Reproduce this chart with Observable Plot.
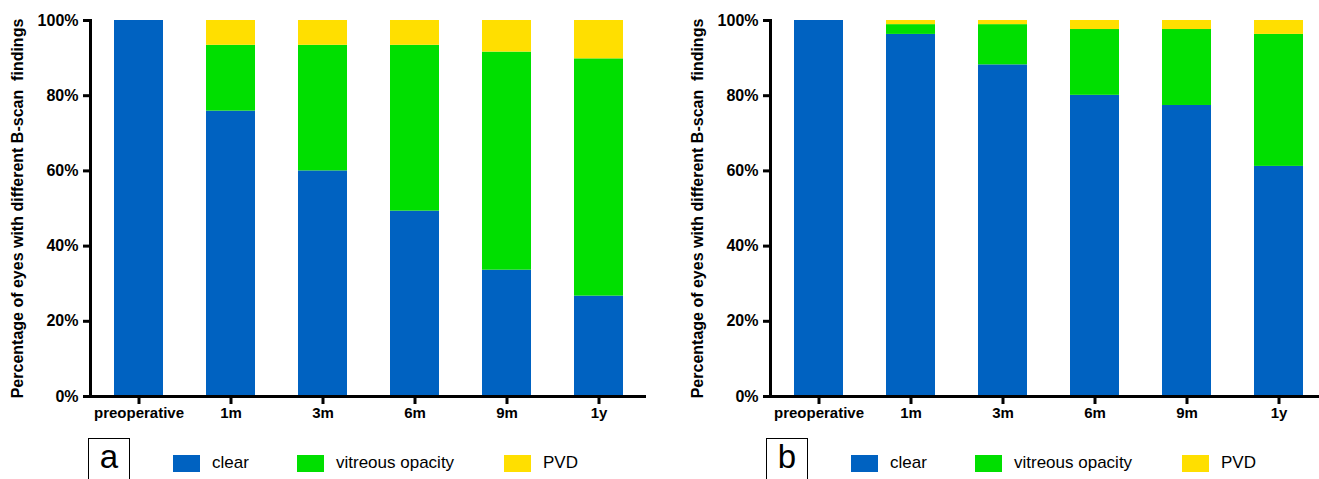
<!DOCTYPE html>
<html>
<head>
<meta charset="utf-8">
<script src="https://cdn.jsdelivr.net/npm/d3@7"></script>
<script src="https://cdn.jsdelivr.net/npm/@observablehq/plot@0.6"></script>
<style>
  html, body { margin: 0; padding: 0; background: #fff; }
  #wrap { position: relative; width: 1319px; height: 479px; overflow: hidden; font-family: "Liberation Sans", Arial, sans-serif; background: #fff; }
  .panel { position: absolute; top: 0; width: 660px; height: 430px; }
  .panel svg { max-width: none !important; }
  .panel svg text { white-space: pre; }
  .legend { position: absolute; top: 438px; height: 60px; width: 600px; }
  .tag { position: absolute; top: 0; width: 42px; height: 60px; border: 1.5px solid #000; box-sizing: border-box; font-size: 33px; line-height: 32px; padding-top: 2px; text-align: center; color: #000; }
  .sw { position: absolute; top: 17px; width: 27px; height: 17px; }
  .lab { position: absolute; top: 15px; font-size: 17px; line-height: 20px; color: #000; white-space: nowrap; }
</style>
</head>
<body>
<div id="wrap"></div>
<script>
const timepoints = ["preoperative", "1m", "3m", "6m", "9m", "1y"];
const findings = ["clear", "vitreous opacity", "PVD"];
const colors = ["#0062c1", "#00df00", "#ffdf00"];
const yTicks = [0, 20, 40, 60, 80, 100];
const yLabel = "Percentage of eyes with different B-scan  findings";

// panel a
const clearA = [100, 75.9, 60.0, 49.3, 33.6, 26.7];
const opacityA = [0, 17.5, 33.4, 44.1, 58.0, 63.1];
const pvdA = [0, 6.6, 6.6, 6.6, 8.4, 10.2];
// panel b
const clearB = [100, 96.3, 88.2, 80.1, 77.4, 61.2];
const opacityB = [0, 2.6, 10.7, 17.5, 20.2, 35.1];
const pvdB = [0, 1.1, 1.1, 2.4, 2.4, 3.7];

function toRows(series) {
  const rows = [];
  timepoints.forEach((t, i) => {
    findings.forEach((f, j) => rows.push({time: t, finding: f, value: series[j][i]}));
  });
  return rows;
}

function panel(rows) {
  return Plot.plot({
    width: 660, height: 430,
    marginTop: 20, marginBottom: 34, marginLeft: 90, marginRight: 14,
    style: {fontFamily: '"Liberation Sans", Arial, sans-serif', color: "#000", background: "transparent", overflow: "visible"},
    x: {domain: timepoints, paddingInner: 0.47, paddingOuter: 0.235},
    y: {domain: [0, 100]},
    color: {domain: findings, range: colors},
    marks: [
      Plot.barY(rows, {x: "time", y: "value", fill: "finding", inset: 0}),
      Plot.axisY({ticks: yTicks, tickFormat: d => d + "%", tickSize: 7, tickPadding: 5, strokeWidth: 3,
        fontSize: 16, fontWeight: "bold", label: yLabel, labelAnchor: "center", labelArrow: "none", labelOffset: 79}),
      Plot.axisX({tickSize: 8, tickPadding: 3, strokeWidth: 3, fontSize: 15, fontWeight: "bold", label: null}),
      Plot.ruleY([0], {strokeWidth: 3}),
      Plot.frame({anchor: "left", strokeWidth: 3})
    ]
  });
}

function legend(tag, left) {
  const offsets = {tag: 88, sw: [173, 297, 504], lab: [212, 336, 543]};
  const div = document.createElement("div");
  div.className = "legend";
  div.style.left = left + "px";
  const t = document.createElement("div");
  t.className = "tag"; t.style.left = offsets.tag + "px"; t.textContent = tag;
  div.appendChild(t);
  findings.forEach((f, i) => {
    const s = document.createElement("div");
    s.className = "sw"; s.style.left = offsets.sw[i] + "px"; s.style.background = colors[i];
    div.appendChild(s);
    const l = document.createElement("div");
    l.className = "lab"; l.style.left = offsets.lab[i] + "px"; l.textContent = f;
    div.appendChild(l);
  });
  return div;
}

const wrap = document.getElementById("wrap");
const pa = document.createElement("div"); pa.className = "panel"; pa.style.left = "0px";
pa.appendChild(panel(toRows([clearA, opacityA, pvdA])));
wrap.appendChild(pa);
const pb = document.createElement("div"); pb.className = "panel"; pb.style.left = "680px";
pb.appendChild(panel(toRows([clearB, opacityB, pvdB])));
wrap.appendChild(pb);

wrap.appendChild(legend("a", 0));
wrap.appendChild(legend("b", 678));
</script>
</body>
</html>
